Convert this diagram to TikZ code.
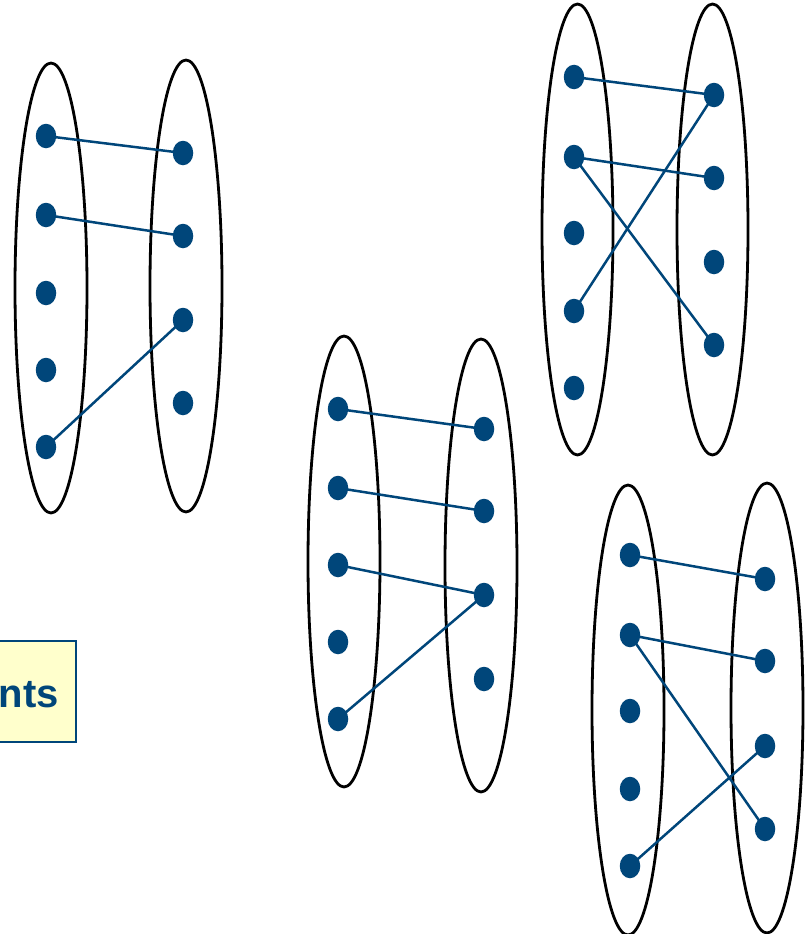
\documentclass[tikz,border=0pt]{standalone}
\usepackage{fontspec}
\setmainfont{Liberation Sans}
\usetikzlibrary{shapes.geometric}
\definecolor{dotblue}{RGB}{0,70,122}
\definecolor{boxfill}{RGB}{255,255,204}
\tikzset{
  setoval/.style={draw=black, line width=2.8pt},
  pt/.style={shape=ellipse, fill=dotblue, inner sep=0pt, minimum width=20.5pt, minimum height=24.5pt},
  link/.style={draw=dotblue, line width=2.5pt},
}
\begin{document}
\begin{tikzpicture}[x=1pt,y=-1pt]
\useasboundingbox (0,0) rectangle (807,934);
\fill[white] (0,0) rectangle (807,934);

% box (partly cut off at left edge)
\node[draw=dotblue, fill=boxfill, line width=2.2pt, rectangle, minimum width=100pt, minimum height=101pt, inner sep=0pt] (box) at (26,691.5) {};
\node[anchor=base east, text=dotblue, font=\bfseries\fontsize{40}{40}\selectfont, inner sep=0pt] (boxtext) at (59,707.5) {nts};

% ---------- diagram 1 ----------
\draw[setoval] (51,288) ellipse [x radius=36, y radius=225];
\draw[setoval] (186,286) ellipse [x radius=36, y radius=226];
\foreach \i/\y in {1/136,2/215,3/293,4/370,5/447} \node[pt] (a\i) at (46,\y) {};
\foreach \i/\y in {1/153,2/236,3/320,4/403} \node[pt] (b\i) at (183,\y) {};
\draw[link] (a1.center) -- (b1.center);
\draw[link] (a2.center) -- (b2.center);
\draw[link] (a5.center) -- (b3.center);

% ---------- diagram 2 ----------
\draw[setoval] (344,561.5) ellipse [x radius=36, y radius=225.5];
\draw[setoval] (481,565.5) ellipse [x radius=36, y radius=226.5];
\foreach \i/\y in {1/409,2/488,3/565,4/642,5/719} \node[pt] (c\i) at (338,\y) {};
\foreach \i/\y in {1/429,2/511,3/595,4/679} \node[pt] (d\i) at (484,\y) {};
\draw[link] (c1.center) -- (d1.center);
\draw[link] (c2.center) -- (d2.center);
\draw[link] (c3.center) -- (d3.center);
\draw[link] (c5.center) -- (d3.center);

% ---------- diagram 3 ----------
\draw[setoval] (577.5,229.5) ellipse [x radius=35.5, y radius=225.5];
\draw[setoval] (712.5,229.5) ellipse [x radius=35.5, y radius=225.5];
\foreach \i/\y in {1/77,2/157,3/233,4/311,5/388} \node[pt] (e\i) at (574,\y) {};
\foreach \i/\y in {1/95,2/178,3/262,4/345} \node[pt] (f\i) at (714,\y) {};
\draw[link] (e1.center) -- (f1.center);
\draw[link] (e2.center) -- (f2.center);
\draw[link] (e2.center) -- (f4.center);
\draw[link] (e4.center) -- (f1.center);

% ---------- diagram 4 ----------
\draw[setoval] (628,710) ellipse [x radius=36, y radius=225];
\draw[setoval] (767,708) ellipse [x radius=36, y radius=225];
\foreach \i/\y in {1/555,2/635,3/711,4/789,5/866} \node[pt] (g\i) at (630,\y) {};
\foreach \i/\y in {1/579,2/661,3/746,4/829} \node[pt] (h\i) at (765,\y) {};
\draw[link] (g1.center) -- (h1.center);
\draw[link] (g2.center) -- (h2.center);
\draw[link] (g2.center) -- (h4.center);
\draw[link] (g5.center) -- (h3.center);
\end{tikzpicture}
\end{document}
